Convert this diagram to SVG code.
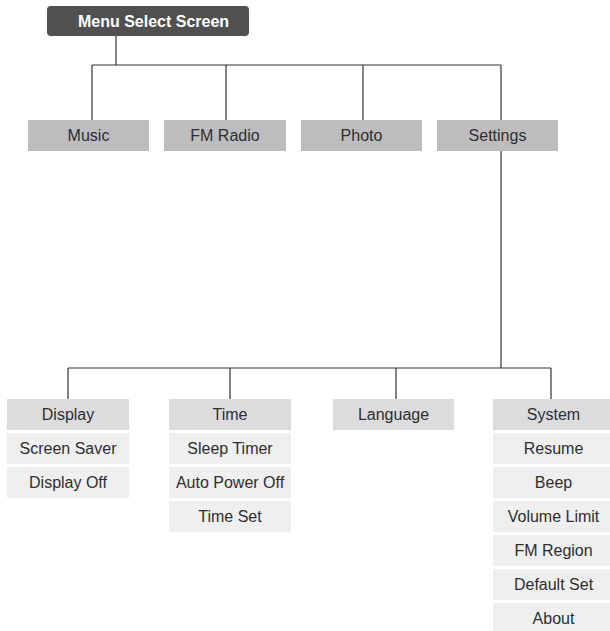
<svg xmlns="http://www.w3.org/2000/svg" width="610" height="631" viewBox="0 0 610 631">
<style>
.l1{fill:#bdbdbf}
.l2{fill:#dcdcde}
.l3{fill:#efeff0}
text{font-family:"Liberation Sans",Arial,sans-serif;font-size:16px;fill:#2e2e2e;text-anchor:middle}
.title{fill:#ffffff;font-weight:bold}
#connectors path{fill:none;stroke:#333;stroke-width:1.2}
</style>
<rect width="610" height="631" fill="#fff"/>
<g id="connectors">
<path d="M116 36V65M92 65H501M92 65V120M226 65V120M363 65V120M501 65V120"/>
<path d="M501 151V368M68 368H551M68 368V399M230 368V399M396 368V399M551 368V399"/>
</g>
<g id="menu"><rect x="47" y="6" width="202" height="30" rx="4" fill="#505050"/><text class="title" x="153.5" y="27">Menu Select Screen</text></g>
<g id="music"><rect class="l1" x="28" y="120" width="121" height="31"/><text x="88.5" y="141">Music</text></g>
<g id="fmradio"><rect class="l1" x="164" y="120" width="122" height="31"/><text x="225" y="141">FM Radio</text></g>
<g id="photo"><rect class="l1" x="301" y="120" width="121" height="31"/><text x="361.5" y="141">Photo</text></g>
<g id="settings"><rect class="l1" x="437" y="120" width="121" height="31"/><text x="497.5" y="141">Settings</text></g>
<g id="display"><rect class="l2" x="7" y="399" width="122" height="31"/><text x="68" y="420">Display</text></g>
<g id="screensaver"><rect class="l3" x="7" y="433" width="122" height="31"/><text x="68" y="454">Screen Saver</text></g>
<g id="displayoff"><rect class="l3" x="7" y="467" width="122" height="31"/><text x="68" y="488">Display Off</text></g>
<g id="time"><rect class="l2" x="169" y="399" width="122" height="31"/><text x="230" y="420">Time</text></g>
<g id="sleeptimer"><rect class="l3" x="169" y="433" width="122" height="31"/><text x="230" y="454">Sleep Timer</text></g>
<g id="autopoweroff"><rect class="l3" x="169" y="467" width="122" height="31"/><text x="230" y="488">Auto Power Off</text></g>
<g id="timeset"><rect class="l3" x="169" y="501" width="122" height="31"/><text x="230" y="522">Time Set</text></g>
<g id="language"><rect class="l2" x="333" y="399" width="121" height="31"/><text x="393.5" y="420">Language</text></g>
<g id="system"><rect class="l2" x="493" y="399" width="121" height="31"/><text x="553.5" y="420">System</text></g>
<g id="resume"><rect class="l3" x="493" y="433" width="121" height="31"/><text x="553.5" y="454">Resume</text></g>
<g id="beep"><rect class="l3" x="493" y="467" width="121" height="31"/><text x="553.5" y="488">Beep</text></g>
<g id="volumelimit"><rect class="l3" x="493" y="501" width="121" height="31"/><text x="553.5" y="522">Volume Limit</text></g>
<g id="fmregion"><rect class="l3" x="493" y="535" width="121" height="31"/><text x="553.5" y="556">FM Region</text></g>
<g id="defaultset"><rect class="l3" x="493" y="569" width="121" height="31"/><text x="553.5" y="590">Default Set</text></g>
<g id="about"><rect class="l3" x="493" y="603" width="121" height="31"/><text x="553.5" y="624">About</text></g>
</svg>
